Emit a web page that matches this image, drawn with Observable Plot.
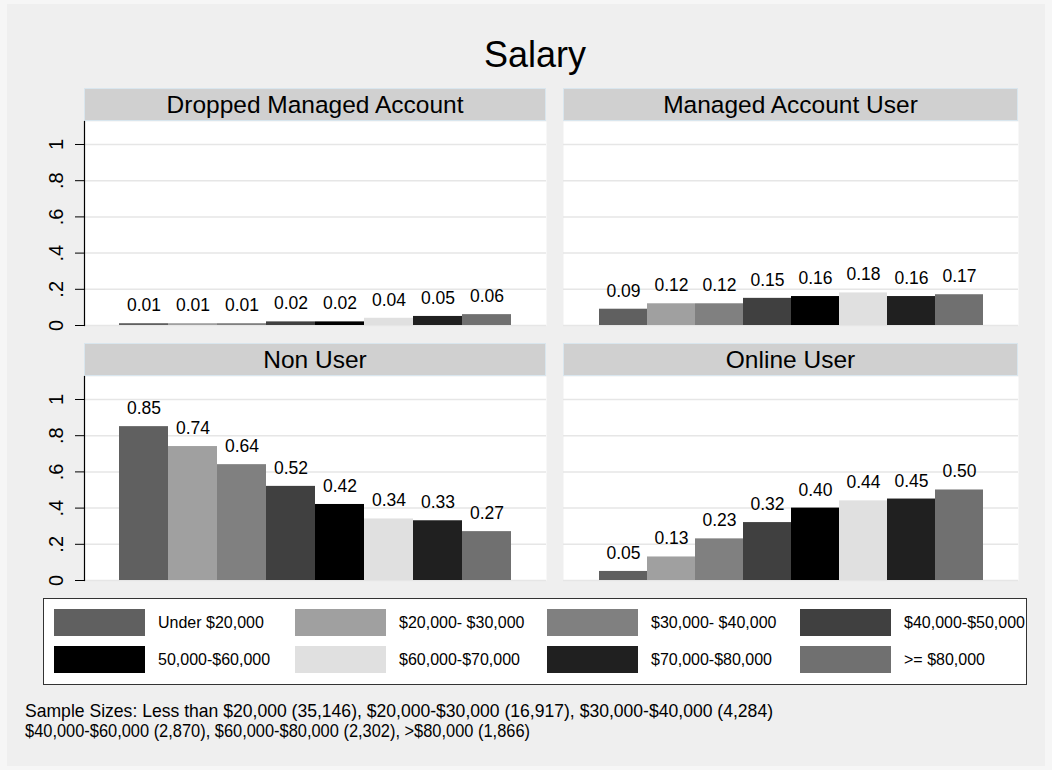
<!DOCTYPE html>
<html>
<head>
<meta charset="utf-8">
<script src="https://cdn.jsdelivr.net/npm/d3@7"></script>
<script src="https://cdn.jsdelivr.net/npm/@observablehq/plot@0.6"></script>
<style>
  html, body { margin: 0; padding: 0; background: #f6f6f6; }
  #chart { position: relative; width: 1052px; height: 770px; overflow: hidden;
           font-family: "Liberation Sans", Arial, sans-serif; color: #000; }
  .bg { position: absolute; left: 7px; top: 4px; width: 1038px; height: 762px; background: #efefef; }
  .strip { position: absolute; height: 33px; background: #d0d0d0; border: 1px solid #d9e6ee;
           box-sizing: border-box; display: flex; align-items: center; justify-content: center;
           font-size: 24.5px; white-space: nowrap; }
  .panel { position: absolute; }
  .legend { position: absolute; left: 43px; top: 598px; width: 984px; height: 87px; background: #fff;
            border: 1px solid #333; box-sizing: border-box; overflow: hidden; }
  .sw { position: absolute; width: 91px; height: 27px; }
  .lab { position: absolute; height: 27px; display: flex; align-items: center; font-size: 16px; white-space: nowrap; }
  .overlay { position: absolute; left: 0; top: 0; }
</style>
</head>
<body>
<div id="chart"><div class="bg"></div></div>
<script>
// ---------- data ----------
const categories = ["Under $20,000", "$20,000- $30,000", "$30,000- $40,000", "$40,000-$50,000",
                    "50,000-$60,000", "$60,000-$70,000", "$70,000-$80,000", ">= $80,000"];
const colors = ["#606060", "#a0a0a0", "#808080", "#404040", "#000000", "#e0e0e0", "#202020", "#707070"];
const panelNames = ["Dropped Managed Account", "Managed Account User", "Non User", "Online User"];
const droppedValues = [0.01, 0.01, 0.01, 0.02, 0.02, 0.04, 0.05, 0.06];
const managedValues = [0.09, 0.12, 0.12, 0.15, 0.16, 0.18, 0.16, 0.17];
const nonUserValues = [0.85, 0.74, 0.64, 0.52, 0.42, 0.34, 0.33, 0.27];
const onlineValues  = [0.05, 0.13, 0.23, 0.32, 0.40, 0.44, 0.45, 0.50];
const yTicks = [0, 0.2, 0.4, 0.6, 0.8, 1];
const yTickLabels = ["0", ".2", ".4", ".6", ".8", "1"];
const titleText = "Salary";
const captionLines = [
  "Sample Sizes: Less than $20,000 (35,146), $20,000-$30,000 (16,917), $30,000-$40,000 (4,284)",
  "$40,000-$60,000 (2,870), $60,000-$80,000 (2,302), >$80,000 (1,866)"
];

// ---------- layout ----------
const chart = document.getElementById("chart");
const yMax = 1.127;
const plotH = 204;
const mTop = 12, mBot = 14;
const cols = [{x0: 84, x1: 546, axis: true}, {x0: 563, x1: 1018, axis: false}];
const rows = [{stripTop: 88, plotTop: 121}, {stripTop: 343, plotTop: 375.5}];
const seriesList = [droppedValues, managedValues, nonUserValues, onlineValues];
const fmt = d3.format(".2f");

seriesList.forEach((vals, i) => {
  const c = cols[i % 2], r = rows[Math.floor(i / 2)];
  const data = categories.map((cat, j) => ({cat, value: vals[j]}));

  const strip = document.createElement("div");
  strip.className = "strip";
  strip.style.left = c.x0 + "px";
  strip.style.top = r.stripTop + "px";
  strip.style.width = (c.x1 - c.x0) + "px";
  strip.textContent = panelNames[i];
  chart.appendChild(strip);

  const marginLeft = c.axis ? c.x0 : 0;
  const width = c.x1 - c.x0 + marginLeft;
  const marks = [
    Plot.frame({fill: "white", stroke: null}),
    Plot.ruleY(yTicks, {stroke: "#e6e6e6", strokeWidth: 1.5}),
    Plot.barY(data, {x: "cat", y: "value", fill: "cat"}),
    Plot.text(data, {x: "cat", y: "value", text: d => fmt(d.value), lineAnchor: "bottom",
                     dy: -12.5, fontSize: 17.5, fill: "black"})
  ];
  if (c.axis) {
    marks.push(
      Plot.axisY({ticks: yTicks, tickSize: 9, tickFormat: () => "", label: null, stroke: "black"}),
      Plot.text(yTicks, {y: d => d, frameAnchor: "left", text: (d, k) => yTickLabels[k], rotate: -90,
                         textAnchor: "middle", lineAnchor: "bottom", dx: -22, fontSize: 20, fill: "black"}),
      Plot.frame({anchor: "left", stroke: "black", strokeWidth: 1.2})
    );
  }
  const plot = Plot.plot({
    width, height: plotH + mTop + mBot,
    marginLeft, marginRight: 0, marginTop: mTop, marginBottom: mBot,
    x: {domain: categories, padding: 0, insetLeft: 33, insetRight: 33, axis: null},
    y: {domain: [0, yMax], axis: null},
    color: {domain: categories, range: colors},
    style: {background: "transparent", fontFamily: "Liberation Sans, Arial, sans-serif", overflow: "visible"},
    marks
  });
  const holder = document.createElement("div");
  holder.className = "panel";
  holder.style.left = (c.x0 - marginLeft) + "px";
  holder.style.top = (r.plotTop - mTop) + "px";
  holder.appendChild(plot);
  chart.appendChild(holder);
});

// ---------- legend ----------
const legend = document.createElement("div");
legend.className = "legend";
const colLeft = [10, 251, 503, 756];
const rowTop = [10, 47];
categories.forEach((cat, k) => {
  const col = k % 4, row = Math.floor(k / 4);
  const sw = document.createElement("div");
  sw.className = "sw";
  sw.style.left = colLeft[col] + "px";
  sw.style.top = rowTop[row] + "px";
  sw.style.background = colors[k];
  legend.appendChild(sw);
  const lab = document.createElement("div");
  lab.className = "lab";
  lab.style.left = (colLeft[col] + 104) + "px";
  lab.style.top = rowTop[row] + "px";
  lab.textContent = cat;
  legend.appendChild(lab);
});
chart.appendChild(legend);

// ---------- title & caption ----------
const svg = d3.select(chart).append("svg").attr("class", "overlay")
  .attr("width", 1052).attr("height", 770)
  .style("font-family", "Liberation Sans, Arial, sans-serif");
svg.append("text").attr("x", 535).attr("y", 66.5).attr("text-anchor", "middle")
  .attr("font-size", 36).text(titleText);
const capLen = [748, 505];
captionLines.forEach((t, k) => {
  svg.append("text").attr("x", 25).attr("y", 716.5 + k * 20).attr("font-size", 18.5)
    .attr("textLength", capLen[k]).attr("lengthAdjust", "spacingAndGlyphs").text(t);
});
</script>
</body>
</html>
